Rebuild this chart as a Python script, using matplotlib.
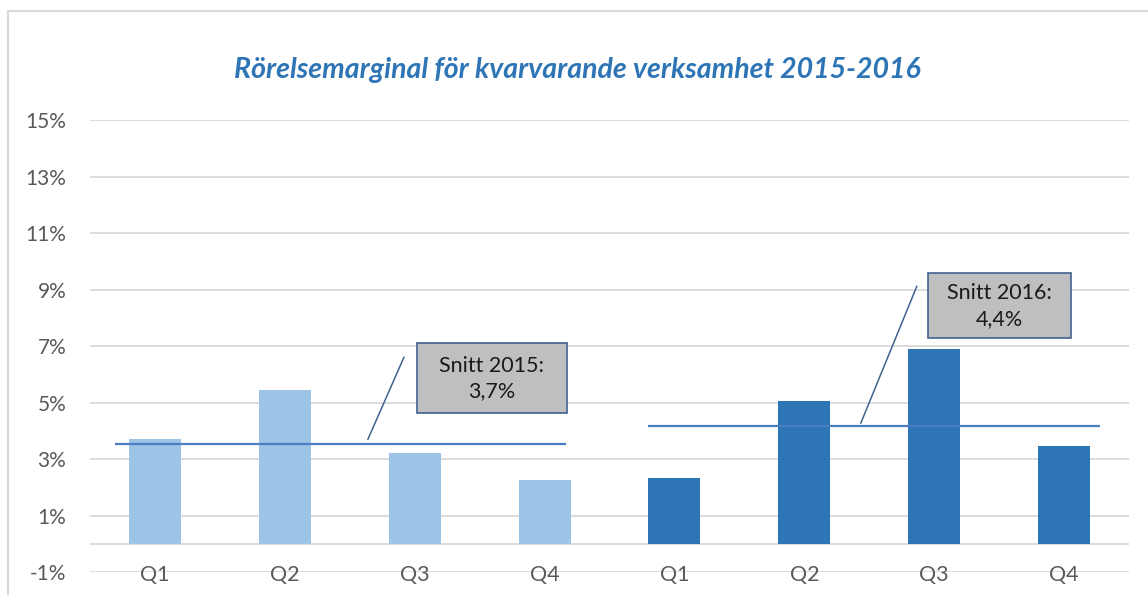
import matplotlib
matplotlib.use("Agg")
import matplotlib.pyplot as plt
from matplotlib.patches import Rectangle

# ---- data ----
categories = ["Q1", "Q2", "Q3", "Q4", "Q1", "Q2", "Q3", "Q4"]
values_2015 = [3.70, 5.43, 3.20, 2.25]
values_2016 = [2.32, 5.04, 6.88, 3.45]
avg_2015 = 3.52
avg_2016 = 4.16
avg_labels = ["Snitt 2015:\n3,7%", "Snitt 2016:\n4,4%"]
yticks = [-1, 1, 3, 5, 7, 9, 11, 13, 15]
title = "Rörelsemarginal för kvarvarande verksamhet 2015-2016"

plt.rcParams['font.family'] = ['Lato', 'DejaVu Sans']

W, H = 1148, 595
fig = plt.figure(figsize=(W / 100, H / 100), dpi=100)
ax = fig.add_axes([90 / W, 1 - 572 / H, (1129 - 90) / W, (572 - 120) / H])

# outer chart border
fig.patches.append(Rectangle((8 / W, -0.1), 1.2, 1 - 11 / H + 0.1, transform=fig.transFigure,
                             fill=False, edgecolor='#D9D9D9', linewidth=1.5))

c_light = '#9DC3E6'
c_dark = '#2E75B6'
x15 = list(range(4))
x16 = list(range(4, 8))
ax.bar(x15, values_2015, width=0.40, color=c_light, zorder=2)
ax.bar(x16, values_2016, width=0.40, color=c_dark, zorder=2)

ax.set_xlim(-0.5, 7.5)
ax.set_ylim(-1, 15)
ax.set_yticks(yticks)
ax.set_yticklabels([f"{t}%" for t in yticks], fontsize=15, color='#595959')
ax.yaxis.grid(True, color='#D9D9D9', linewidth=1.3, zorder=0)
ax.axhline(0, color='#D9D9D9', linewidth=1.3, zorder=1)
ax.set_axisbelow(True)
ax.tick_params(axis='y', length=0, pad=17)
ax.set_xticks([])
for s in ax.spines.values():
    s.set_visible(False)

for i, c in enumerate(categories):
    ax.text(i, -1.12, c, ha='center', va='center', fontsize=15.5, color='#595959', clip_on=False)

# average lines
line_c = '#4A7EC4'
ax.hlines(avg_2015, -0.308, 3.164, color=line_c, linewidth=1.6, zorder=3)
ax.hlines(avg_2016, 3.796, 7.275, color=line_c, linewidth=1.6, zorder=3)

# callouts
edge_c = '#41628F'
boxes = [(2.017, 4.62, 1.155, 2.47), (5.951, 7.27, 1.101, 2.30)]
leaders = [((1.917, 6.60), (1.640, 3.70)), ((5.866, 9.11), (5.435, 4.27))]
for (x0, y0, w, h), lab, (p1, p2) in zip(boxes, avg_labels, leaders):
    ax.add_patch(Rectangle((x0, y0), w, h, facecolor='#BFBFBF', edgecolor=edge_c,
                           linewidth=1.2, zorder=4))
    ax.text(x0 + w / 2, y0 + h / 2, lab, ha='center', va='center', fontsize=15.5,
            color='#1A1A1A', linespacing=1.35, zorder=5)
    ax.plot([p1[0], p2[0]], [p1[1], p2[1]], color=edge_c, linewidth=1.1, zorder=4)

fig.text(577 / W, 1 - 70 / H, title, ha='center', va='center', fontsize=20.5,
         fontweight='bold', fontstyle='italic', color='#2E75B6')

fig.savefig("out.png", dpi=100)
